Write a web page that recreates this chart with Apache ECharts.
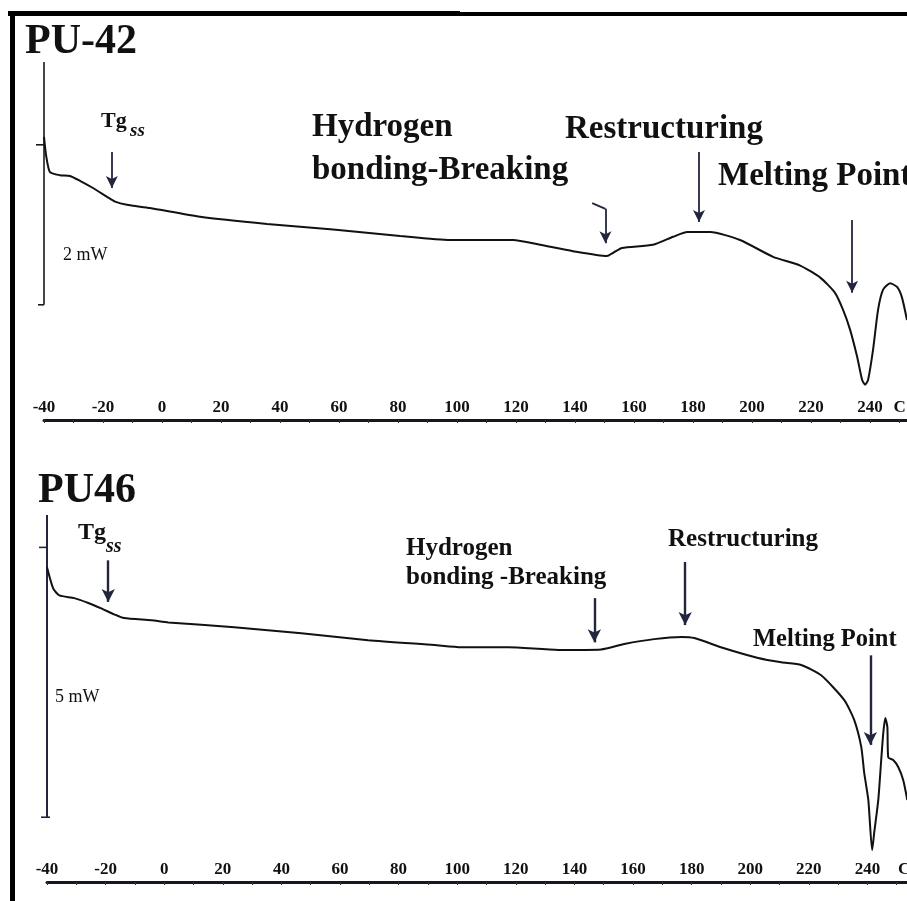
<!DOCTYPE html>
<html>
<head>
<meta charset="utf-8">
<script src="https://cdn.jsdelivr.net/npm/echarts@6/dist/echarts.min.js"></script>
<style>
html, body { margin: 0; padding: 0; background: #fff; }
#chart { width: 907px; height: 901px; }
</style>
</head>
<body>
<div id="chart"></div>
<script>
// DSC heating scans: temperature (°C) vs. relative heat flow (mW)
const tempPU42 = [-40.0, -39.3, -38.0, -34.6, -31.2, -27.8, -23.4, -18.6, -15.9, -11.9, -4.1, 12.9, 35.6, 58.0, 80.7, 97.6, 119.0, 128.1, 139.3, 150.8, 152.9, 155.9, 166.4, 173.2, 178.0, 185.8, 195.9, 207.1, 216.3, 223.1, 228.1, 230.8, 233.2, 235.6, 237.3, 238.3, 239.3, 241.0, 242.7, 244.4, 246.8, 249.2, 250.8, 252.5];
const heatPU42 = [3.54, 3.31, 3.10, 3.06, 3.05, 2.99, 2.90, 2.79, 2.73, 2.69, 2.65, 2.54, 2.45, 2.38, 2.30, 2.25, 2.25, 2.19, 2.11, 2.05, 2.09, 2.15, 2.19, 2.29, 2.35, 2.35, 2.25, 2.04, 1.93, 1.78, 1.59, 1.38, 1.13, 0.79, 0.50, 0.44, 0.50, 0.88, 1.38, 1.63, 1.71, 1.66, 1.53, 1.25];

const tempPU46 = [-40.0, -37.9, -35.8, -30.7, -25.9, -21.5, -17.1, -13.7, -4.4, 1.4, 23.9, 46.8, 69.6, 92.2, 101.4, 117.4, 134.5, 149.1, 157.0, 167.2, 176.5, 180.9, 191.1, 202.7, 210.6, 217.4, 224.2, 232.1, 235.5, 237.9, 238.9, 240.3, 241.6, 242.3, 243.7, 244.7, 245.4, 246.1, 246.8, 247.1, 248.8, 250.5, 252.2, 253.6];
const heatPU46 = [5.83, 5.44, 5.31, 5.26, 5.17, 5.07, 4.96, 4.89, 4.85, 4.81, 4.72, 4.61, 4.48, 4.39, 4.35, 4.35, 4.30, 4.31, 4.41, 4.50, 4.54, 4.52, 4.33, 4.15, 4.07, 4.02, 3.83, 3.37, 3.00, 2.50, 2.02, 1.52, 0.59, 0.91, 1.52, 2.26, 2.76, 3.04, 2.87, 2.31, 2.26, 2.13, 1.89, 1.52];

// Temperature tick labels; the last value carries the unit letter
const xTickValuesPU42 = [-40, -20, 0, 20, 40, 60, 80, 100, 120, 140, 160, 180, 200, 220, 240, 250];
const xTickValuesPU46 = [-40, -20, 0, 20, 40, 60, 80, 100, 120, 140, 160, 180, 200, 220, 240, 252.5];
const unitLabel = 'C';

// Heat-flow scale bars: [axis top, bar top, bar bottom] in mW
const scalePU42 = [4.475, 3.44, 1.44];   // 2 mW
const scalePU46 = [6.80, 6.20, 1.20];    // 5 mW

// Transition markers: [temperature, arrow start, arrow tip]
const arrowsPU42 = [[-17.0, 3.35, 2.90], [182.0, 3.35, 2.475], [233.9, 2.50, 1.59]];
const hbondPU42 = [[145.8, 2.71], [150.3, 2.64], [150.3, 2.21]];
const arrowsPU46 = [[-19.1, 5.96, 5.19], [146.8, 5.26, 4.44], [177.8, 5.93, 4.76], [241.0, 4.20, 2.54]];

const serif = '"Liberation Serif", "Times New Roman", serif';
const INK = '#111111';
const NAVY = '#23253f';

function zip(xs, ys) { return xs.map((x, i) => [x, ys[i]]); }

function xAxisFor(gridIndex, max, labels) {
  const last = labels[labels.length - 1];
  return {
    gridIndex, type: 'value', min: -40, max, interval: 20,
    axisLine: { show: true, onZero: false, lineStyle: { color: '#141820', width: 3 } },
    axisTick: { show: true, length: 3, lineStyle: { color: '#333', width: 1 } },
    minorTick: { show: true, splitNumber: 2, length: 3, lineStyle: { color: '#333', width: 1 } },
    splitLine: { show: false },
    axisLabel: {
      inside: true, margin: 4, customValues: labels,
      formatter: v => (v === last ? unitLabel : String(v)),
      color: INK, fontFamily: serif, fontWeight: 'bold', fontSize: 17
    }
  };
}

function arrowLines(list) {
  return list.map(a => [{ coord: [a[0], a[1]] }, { coord: [a[0], a[2]] }]);
}

function txt(x, y, text, size, opts) {
  return {
    type: 'text', x, y, z: 10, silent: true,
    style: Object.assign({
      text, fill: INK, fontFamily: serif, fontSize: size, fontWeight: 'bold',
      align: 'left', verticalAlign: 'middle'
    }, opts || {})
  };
}

const chart = echarts.init(document.getElementById('chart'), null, { renderer: 'canvas' });

chart.setOption({
  animation: false,
  backgroundColor: '#ffffff',
  grid: [
    { left: 44, top: 60, width: 863, height: 360, containLabel: false, outerBoundsMode: 'none' },
    { left: 47, top: 515, width: 860, height: 367, containLabel: false, outerBoundsMode: 'none' }
  ],
  xAxis: [
    xAxisFor(0, 252.5, xTickValuesPU42),
    xAxisFor(1, 253.5, xTickValuesPU46)
  ],
  yAxis: [
    { gridIndex: 0, type: 'value', min: 0, max: 4.5, show: false },
    { gridIndex: 1, type: 'value', min: 0, max: 6.8, show: false }
  ],
  series: [
    {
      name: 'PU-42', type: 'line', xAxisIndex: 0, yAxisIndex: 0,
      data: zip(tempPU42, heatPU42), symbol: 'none', smooth: 0.2, clip: false,
      lineStyle: { color: INK, width: 2 }, z: 4,
      markLine: {
        silent: true, symbol: ['none', 'arrow'], symbolSize: [9, 12],
        label: { show: false },
        lineStyle: { color: NAVY, width: 1.8, type: 'solid' },
        data: arrowLines(arrowsPU42).concat([
          [{ coord: hbondPU42[0], symbol: 'none' }, { coord: hbondPU42[1], symbol: 'none' }],
          [{ coord: hbondPU42[1], symbol: 'none' }, { coord: hbondPU42[2] }]
        ])
      }
    },
    {
      name: 'PU46', type: 'line', xAxisIndex: 1, yAxisIndex: 1,
      data: zip(tempPU46, heatPU46), symbol: 'none', smooth: 0.2, clip: false,
      lineStyle: { color: INK, width: 2 }, z: 4,
      markLine: {
        silent: true, symbol: ['none', 'arrow'], symbolSize: [10, 13],
        label: { show: false },
        lineStyle: { color: NAVY, width: 2.4, type: 'solid' },
        data: arrowLines(arrowsPU46)
      }
    },
    // vertical heat-flow scale bars
    {
      type: 'line', xAxisIndex: 0, yAxisIndex: 0, symbol: 'none', silent: true, clip: false, z: 3,
      lineStyle: { color: '#1a1a1a', width: 1.6 },
      data: [[-40, scalePU42[0]], [-40, scalePU42[2]]]
    },
    {
      type: 'line', xAxisIndex: 1, yAxisIndex: 1, symbol: 'none', silent: true, clip: false, z: 3,
      lineStyle: { color: NAVY, width: 2 },
      data: [[-40, scalePU46[0]], [-40, scalePU46[2]]]
    }
  ]
});

// Short end marks of the scale bars, placed through the axes' own scales
function barFoot(gridIndex, value, dxLeft, dxRight, color, width) {
  const p = chart.convertToPixel({ gridIndex }, [-40, value]);
  return {
    type: 'line', silent: true, z: 5,
    shape: { x1: p[0] - dxLeft, y1: p[1], x2: p[0] + dxRight, y2: p[1] },
    style: { stroke: color, lineWidth: width }
  };
}

chart.setOption({
  graphic: [
    // frame
    { type: 'rect', silent: true, shape: { x: 8, y: 12, width: 899, height: 4 }, style: { fill: '#000' } },
    { type: 'rect', silent: true, shape: { x: 8, y: 11, width: 452, height: 2 }, style: { fill: '#000' } },
    { type: 'rect', silent: true, shape: { x: 10, y: 12, width: 5, height: 889 }, style: { fill: '#000' } },

    barFoot(0, scalePU42[1], 8, 0, '#1a1a1a', 1.6),
    barFoot(0, scalePU42[2], 6, 0, '#1a1a1a', 1.6),
    barFoot(1, scalePU46[1], 8, 1, NAVY, 1.6),
    barFoot(1, scalePU46[2], 6, 3, NAVY, 1.6),

    // PU-42 panel
    txt(25, 42, 'PU-42', 42),
    txt(101, 121, 'Tg', 22),
    txt(130, 131, 'ss', 19, { fontStyle: 'italic' }),
    txt(312, 127, 'Hydrogen', 33),
    txt(312, 170, 'bonding-Breaking', 33),
    txt(565, 129, 'Restructuring', 33),
    txt(718, 176, 'Melting Point', 33),
    txt(63, 255, '2 mW', 18, { fontWeight: 'normal' }),

    // PU46 panel
    txt(38, 491, 'PU46', 42),
    txt(78, 533, 'Tg', 24),
    txt(106, 547, 'ss', 20, { fontStyle: 'italic' }),
    txt(406, 549, 'Hydrogen', 25),
    txt(406, 578, 'bonding -Breaking', 25),
    txt(668, 540, 'Restructuring', 25),
    txt(753, 640, 'Melting Point', 24.5),
    txt(55, 697, '5 mW', 18, { fontWeight: 'normal' })
  ]
});
</script>
</body>
</html>
